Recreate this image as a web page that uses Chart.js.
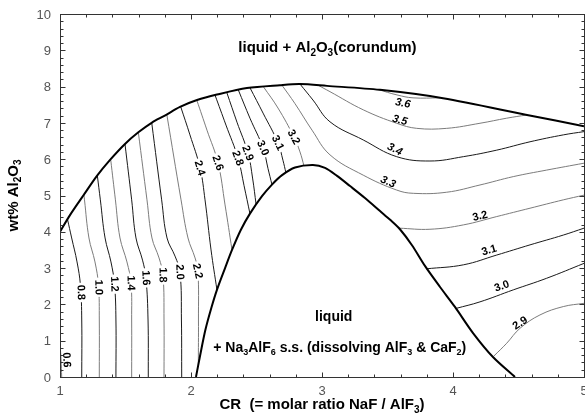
<!DOCTYPE html>
<html lang="en">
<head>
<meta charset="utf-8">
<title>wt% Al2O3 vs CR</title>
<script src="https://cdn.jsdelivr.net/npm/chart.js@4.4.1/dist/chart.umd.min.js"></script>
<style>
  html, body { margin: 0; padding: 0; background: #ffffff; }
  canvas { display: block; }
</style>
</head>
<body>
<canvas id="diagram" width="585" height="418"></canvas>
<script>
// phase boundaries  [CR, wt% Al2O3]
const corundumLiquidus = [
  [1.000, 4.00], [1.076, 4.46], [1.178, 5.00], [1.282, 5.54], [1.382, 5.98], [1.496, 6.42],
  [1.598, 6.74], [1.702, 7.01], [1.800, 7.20], [1.916, 7.44], [2.046, 7.63], [2.198, 7.78],
  [2.427, 7.96], [2.679, 8.04], [2.832, 8.07], [3.038, 8.02], [3.443, 7.91], [3.924, 7.68],
  [4.565, 7.22], [5.000, 6.91]
];
const cryoliteLiquidus = [
  [2.038, 0.00], [2.070, 0.60], [2.110, 1.30], [2.155, 1.90], [2.198, 2.40], [2.260, 3.00],
  [2.313, 3.50], [2.380, 4.05], [2.450, 4.50], [2.542, 4.98], [2.618, 5.30], [2.695, 5.56],
  [2.794, 5.77], [2.931, 5.84], [3.023, 5.76], [3.115, 5.54], [3.214, 5.26], [3.328, 4.93],
  [3.443, 4.57], [3.520, 4.33], [3.595, 4.07], [3.687, 3.63], [3.786, 3.06], [3.901, 2.48],
  [4.015, 1.93], [4.153, 1.21], [4.305, 0.55], [4.473, 0.00]
];

// iso-lines
const c06 = [[1.000, 0.94], [1.008, 0.47], [1.013, 0.00]];
const c08 = [[1.057, 4.35], [1.089, 3.83], [1.130, 3.17], [1.156, 2.53], [1.166, 1.57], [1.166, 0.00]];
const c10 = [[1.183, 5.03], [1.187, 4.88], [1.221, 3.83], [1.267, 3.17], [1.294, 2.53], [1.300, 1.57], [1.300, 0.00]];
const c12 = [[1.285, 5.55], [1.308, 4.88], [1.344, 3.83], [1.389, 3.17], [1.416, 2.56], [1.427, 1.57], [1.427, 0.00]];
const c14 = [[1.387, 5.99], [1.423, 4.88], [1.458, 3.83], [1.511, 3.17], [1.542, 2.59], [1.547, 1.57], [1.547, 0.00]];
const c16 = [[1.496, 6.42], [1.547, 4.88], [1.580, 3.83], [1.630, 3.22], [1.656, 2.73], [1.672, 1.57], [1.674, 0.00]];
const c18 = [[1.598, 6.74], [1.664, 4.88], [1.702, 3.83], [1.756, 3.28], [1.786, 2.81], [1.794, 1.57], [1.794, 0.00]];
const c20 = [[1.700, 7.01], [1.776, 4.88], [1.817, 3.83], [1.878, 3.33], [1.916, 2.89], [1.927, 1.57], [1.929, 0.00]];
const c22 = [[1.815, 7.24], [1.924, 4.88], [1.977, 3.83], [2.031, 3.28], [2.053, 2.92], [2.057, 1.57], [2.056, 0.33]];
const c24 = [[1.921, 7.45], [1.992, 6.67], [2.069, 5.76], [2.107, 4.88], [2.153, 3.50], [2.198, 2.40]];
const c26 = [[2.044, 7.63], [2.122, 6.80], [2.206, 5.90], [2.260, 4.74], [2.313, 3.50]];
const c28 = [[2.183, 7.77], [2.267, 6.94], [2.359, 6.03], [2.405, 5.27], [2.450, 4.50]];
const c29 = [[2.273, 7.84], [2.351, 7.02], [2.435, 6.17], [2.470, 5.48], [2.497, 4.75]];
const c30 = [[2.361, 7.91], [2.450, 7.13], [2.550, 6.31], [2.588, 5.74], [2.618, 5.30]];
const c31 = [[2.450, 7.97], [2.550, 7.27], [2.664, 6.45], [2.702, 5.97], [2.725, 5.62]];
const c32 = [[2.552, 8.00], [2.664, 7.41], [2.786, 6.61], [2.832, 6.20], [2.863, 5.81]];
const c33 = [[2.692, 8.05], [2.794, 7.53], [2.924, 6.80], [3.061, 6.12], [3.315, 5.56], [3.570, 5.15],
             [3.697, 5.06], [3.952, 5.09], [4.206, 5.29], [4.460, 5.52], [4.715, 5.70], [5.000, 5.89]];
const c34 = [[2.832, 8.07], [2.931, 7.63], [3.061, 7.03], [3.315, 6.53], [3.570, 6.07], [3.824, 5.95],
             [4.079, 6.07], [4.334, 6.25], [4.588, 6.48], [4.842, 6.67], [5.000, 6.76]];
const c35 = [[2.969, 8.04], [3.061, 7.86], [3.315, 7.36], [3.570, 6.99], [3.723, 6.85], [3.952, 6.85],
             [4.206, 6.99], [4.410, 7.13], [4.565, 7.22]];
const c36 = [[3.427, 7.92], [3.573, 7.77], [3.695, 7.69], [3.901, 7.69]];
const c32r = [[3.588, 4.10], [3.824, 4.07], [4.079, 4.19], [4.334, 4.42], [4.588, 4.65], [4.842, 4.88], [5.000, 5.01]];
const c31r = [[3.797, 2.98], [4.079, 3.09], [4.334, 3.36], [4.588, 3.64], [4.842, 3.91], [5.000, 4.10]];
const c30r = [[4.024, 1.89], [4.206, 2.07], [4.460, 2.40], [4.715, 2.72], [5.000, 3.13]];
const c29r = [[4.310, 0.57], [4.410, 0.93], [4.511, 1.34], [4.664, 1.71], [4.842, 1.94], [5.000, 2.03]];

const contourLines = [c06, c08, c10, c12, c14, c16, c18, c20, c22, c24, c26, c28, c29, c30, c31, c32,
                      c33, c34, c35, c36, c32r, c31r, c30r, c29r];
const contourLevels = ["0.6", "0.8", "1.0", "1.2", "1.4", "1.6", "1.8", "2.0", "2.2", "2.4", "2.6", "2.8",
                       "2.9", "3.0", "3.1", "3.2", "3.3", "3.4", "3.5", "3.6", "3.2", "3.1", "3.0", "2.9"];
const labelAt = [
  [1.053, 0.47], [1.162, 2.33], [1.297, 2.47], [1.418, 2.56], [1.544, 2.59], [1.658, 2.73],
  [1.787, 2.81], [1.917, 2.89], [2.053, 2.92], [2.069, 5.76], [2.206, 5.90], [2.359, 6.03],
  [2.435, 6.17], [2.550, 6.31], [2.664, 6.45], [2.786, 6.61], [3.506, 5.38], [3.557, 6.28],
  [3.595, 7.08], [3.618, 7.55], [4.206, 4.44], [4.275, 3.50], [4.372, 2.51], [4.511, 1.49]
];

const xTickLabels = [1, 2, 3, 4, 5];
const yTickLabels = [0, 1, 2, 3, 4, 5, 6, 7, 8, 9, 10];

// styling
const fam = '"Liberation Sans", Arial, Helvetica, sans-serif';
const BLK = "#1a1a1a", GRY = "#7c7c7c";
const lineShade = [GRY, BLK, GRY, BLK, GRY, BLK, GRY, BLK, GRY, BLK, GRY, BLK, BLK, BLK, BLK, GRY,
                   GRY, BLK, GRY, GRY, GRY, BLK, BLK, GRY];
// labels that cut the line (white box) vs labels sitting beside it
const labelBoxed = contourLevels.map((_, i) => i >= 1 && i <= 15);
const labelItalic = contourLevels.map((_, i) => i >= 16 && i <= 19);

const regionTexts = [
  { at: [2.361, 8.95], size: 15, parts: [["liquid + Al", 0], ["2", 1], ["O", 0], ["3", 1], ["(corundum)", 0]] },
  { at: [2.947, 1.53], size: 14, parts: [["liquid", 0]] },
  { at: [2.170, 0.69], size: 14, parts: [["+ Na", 0], ["3", 1], ["AlF", 0], ["6", 1], [" s.s. (dissolving AlF", 0],
                               ["3", 1], [" & CaF", 0], ["2", 1], [")", 0]] }
];

function drawRich(ctx, parts, x, y, size, align) {
  const main = "bold " + size + "px " + fam;
  const sub = "bold " + Math.round(size * 0.65) + "px " + fam;
  let w = 0;
  parts.forEach(([t, s]) => { ctx.font = s ? sub : main; w += ctx.measureText(t).width; });
  let cx = align === "center" ? x - w / 2 : x;
  ctx.textAlign = "left";
  ctx.textBaseline = "alphabetic";
  parts.forEach(([t, s]) => {
    ctx.font = s ? sub : main;
    ctx.fillText(t, cx, y + (s ? size * 0.25 : 0));
    cx += ctx.measureText(t).width;
  });
}

const toPts = arr => arr.map(([x, y]) => ({ x, y }));

const diagramPlugin = {
  id: "diagramDecor",
  beforeDraw(chart) {
    const { ctx, width, height } = chart;
    ctx.save();
    ctx.fillStyle = "#fff";
    ctx.fillRect(0, 0, width, height);
    ctx.restore();
  },
  afterDatasetsDraw(chart) {
    const ctx = chart.ctx;
    const xs = chart.scales.x, ys = chart.scales.y;
    ctx.save();
    labelAt.forEach((pos, i) => {
      const px = xs.getPixelForValue(pos[0]);
      const py = ys.getPixelForValue(pos[1]);
      const pts = chart.getDatasetMeta(i + 2).data;
      let best = Infinity, ang = 0;
      for (let k = 0; k < pts.length - 1; k++) {
        const a = pts[k], b = pts[k + 1];
        const dx = b.x - a.x, dy = b.y - a.y;
        let t = ((px - a.x) * dx + (py - a.y) * dy) / (dx * dx + dy * dy);
        t = Math.max(0, Math.min(1, t));
        const qx = a.x + t * dx - px, qy = a.y + t * dy - py;
        const d = qx * qx + qy * qy;
        if (d < best) { best = d; ang = Math.atan2(dy, dx); }
      }
      if (Math.cos(ang) < -1e-6) ang += Math.PI;
      ctx.save();
      ctx.translate(px, py);
      ctx.rotate(ang);
      ctx.font = (labelItalic[i] ? "italic " : "") + "bold 11px " + fam;
      const w = ctx.measureText(contourLevels[i]).width;
      if (labelBoxed[i]) {
        ctx.fillStyle = "#fff";
        ctx.fillRect(-w / 2 - 2, -5, w + 4, 10);
      }
      ctx.fillStyle = "#000";
      ctx.textAlign = "center";
      ctx.textBaseline = "middle";
      ctx.fillText(contourLevels[i], 0, 0.5);
      ctx.restore();
    });
    ctx.restore();
  },
  afterDraw(chart) {
    const ctx = chart.ctx;
    const xs = chart.scales.x, ys = chart.scales.y;
    const ca = chart.chartArea;
    const L = Math.round(ca.left) + 0.5, R = Math.round(ca.right) + 0.5;
    const T = Math.round(ca.top) + 0.5, B = Math.round(ca.bottom) + 0.5;
    ctx.save();
    // frame
    ctx.strokeStyle = "#333";
    ctx.lineWidth = 1;
    ctx.strokeRect(L, T, R - L, B - T);
    // inward ticks, minor every 0.2
    ctx.beginPath();
    for (let i = 0; i <= 20; i++) {
      const px = Math.round(xs.getPixelForValue(1 + i * 0.2)) + 0.5;
      const len = i % 5 === 0 ? 5 : 3;
      ctx.moveTo(px, B); ctx.lineTo(px, B - len);
      ctx.moveTo(px, T); ctx.lineTo(px, T + len);
    }
    for (let i = 0; i <= 50; i++) {
      const py = Math.round(ys.getPixelForValue(i * 0.2)) + 0.5;
      const len = i % 5 === 0 ? 5 : 3;
      ctx.moveTo(L, py); ctx.lineTo(L + len, py);
      ctx.moveTo(R, py); ctx.lineTo(R - len, py);
    }
    ctx.stroke();

    // tick labels
    ctx.fillStyle = "#555";
    ctx.font = "13px " + fam;
    ctx.textBaseline = "alphabetic";
    ctx.textAlign = "center";
    xTickLabels.forEach(v => ctx.fillText(String(v), xs.getPixelForValue(v), 395));
    ctx.textAlign = "right";
    yTickLabels.forEach(v => ctx.fillText(String(v), 51, ys.getPixelForValue(v) + 4.6));

    // axis titles
    ctx.fillStyle = "#000";
    drawRich(ctx, [["CR  (= molar ratio NaF / AlF", 0], ["3", 1], [")", 0]], (ca.left + ca.right) / 2, 409, 15, "center");
    ctx.save();
    ctx.translate(17.5, (ca.top + ca.bottom) / 2);
    ctx.rotate(-Math.PI / 2);
    drawRich(ctx, [["wt% Al", 0], ["2", 1], ["O", 0], ["3", 1]], 0, 0, 15, "center");
    ctx.restore();

    // phase field names
    regionTexts.forEach(r => {
      drawRich(ctx, r.parts, xs.getPixelForValue(r.at[0]), ys.getPixelForValue(r.at[1]), r.size, "left");
    });
    ctx.restore();
  }
};

function buildDatasets() {
  const base = { showLine: true, pointRadius: 0, pointHoverRadius: 0, fill: false };
  const sets = [
    Object.assign({}, base, { data: toPts(corundumLiquidus), borderColor: "#000", borderWidth: 2, tension: 0.3 }),
    Object.assign({}, base, { data: toPts(cryoliteLiquidus), borderColor: "#000", borderWidth: 2, tension: 0.3 })
  ];
  contourLines.forEach((pts, i) => {
    sets.push(Object.assign({}, base, { data: toPts(pts), borderColor: lineShade[i], borderWidth: 1, tension: 0.4 }));
  });
  return sets;
}

document.addEventListener("DOMContentLoaded", () => {
  const ctx = document.getElementById("diagram").getContext("2d");
  new Chart(ctx, {
    type: "scatter",
    data: { datasets: buildDatasets() },
    options: {
      responsive: false,
      devicePixelRatio: 1,
      animation: false,
      events: [],
      layout: { padding: { left: 60, right: 1, top: 14, bottom: 41 } },
      plugins: { legend: { display: false }, tooltip: { enabled: false } },
      scales: {
        x: { type: "linear", min: 1, max: 5, display: false },
        y: { type: "linear", min: 0, max: 10, display: false }
      }
    },
    plugins: [diagramPlugin]
  });
});
</script>
</body>
</html>
